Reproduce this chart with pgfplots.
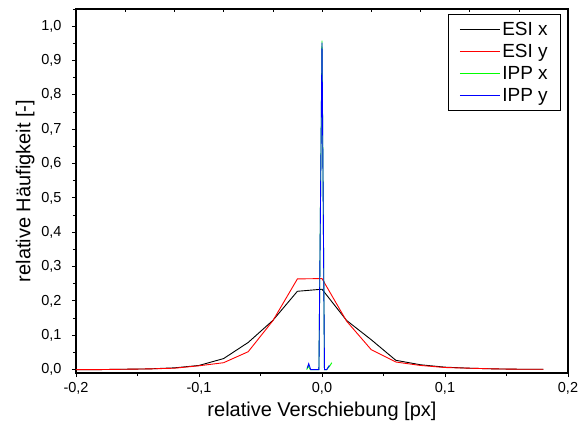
\documentclass[border=0pt]{standalone}
\usepackage{pgfplots}
\pgfplotsset{compat=1.18}
\usepackage{fontspec}
\setmainfont{Liberation Sans}

\definecolor{esiy}{RGB}{255,0,0}
\definecolor{ippx}{RGB}{0,255,0}
\definecolor{ippy}{RGB}{0,0,255}

\begin{document}
\begin{tikzpicture}
\begin{axis}[
	at={(0pt,0pt)}, anchor=south west,
	scale only axis,
	width=492pt, height=364pt,
	xmin=-0.2, xmax=0.2,
	ymin=-0.01, ymax=1.05,
	xtick={-0.2,-0.1,0,0.1,0.2},
	xticklabels={{-0,2},{-0,1},{0,0},{0,1},{0,2}},
	minor xtick={-0.15,-0.05,0.05,0.15},
	ytick={0,0.1,...,1.0},
	yticklabels={{0,0},{0,1},{0,2},{0,3},{0,4},{0,5},{0,6},{0,7},{0,8},{0,9},{1,0}},
	minor ytick={0.05,0.15,...,1.0},
	xtick pos=bottom, ytick pos=left,
	tick align=outside,
	major tick length=4pt, minor tick length=3pt,
	every tick/.style={black, line width=0.8pt},
	axis line style={line width=1.2pt},
	tick label style={font=\fontsize{14.5}{17}\selectfont},
	xticklabel style={yshift=-2pt},
	yticklabel style={xshift=-7pt},
	xlabel={relative Verschiebung [px]},
	ylabel={relative Häufigkeit [-]},
	label style={font=\fontsize{20}{24}\selectfont},
	xlabel style={at={(axis description cs:0.5,0)}, anchor=north, yshift=-25pt},
	ylabel style={at={(axis description cs:0,0.5)}, anchor=south, yshift=38pt},
	legend style={at={(0.986,0.986)}, anchor=north east, line width=0.8pt,
		font=\fontsize{19}{22}\selectfont, legend cell align=left,
		row sep=3.4pt, inner xsep=11pt, inner ysep=5.5pt},
	every axis plot/.append style={line width=0.9pt},
]
\addplot[black,
	legend image code/.code={\draw[black, line width=1pt] (0pt,0pt) -- (40pt,0pt);}] table {
-0.20 0.000
-0.18 0.000
-0.16 0.001
-0.14 0.002
-0.12 0.005
-0.10 0.012
-0.08 0.032
-0.06 0.079
-0.04 0.143
-0.02 0.228
0.00 0.234
0.02 0.143
0.04 0.087
0.06 0.027
0.08 0.014
0.10 0.007
0.12 0.004
0.14 0.002
0.16 0.001
0.18 0.001
};
\addlegendentry{ESI x}
\addplot[color=esiy,
	legend image code/.code={\draw[esiy, line width=1pt] (0pt,0pt) -- (40pt,0pt);}] table {
-0.20 0.000
-0.18 0.000
-0.16 0.001
-0.14 0.002
-0.12 0.004
-0.10 0.011
-0.08 0.020
-0.06 0.052
-0.04 0.142
-0.02 0.264
0.00 0.265
0.02 0.141
0.04 0.058
0.06 0.022
0.08 0.012
0.10 0.006
0.12 0.004
0.14 0.002
0.16 0.001
0.18 0.001
};
\addlegendentry{ESI y}
\addplot[color=ippx,
	legend image code/.code={\draw[ippx, line width=1pt] (0pt,0pt) -- (40pt,0pt);}] table {
-0.0125 0.000
-0.0112 0.010
-0.0095 0.000
-0.0025 0.000
0.0000 0.958
0.0020 0.000
0.0038 0.000
0.0062 0.010
0.0080 0.020
};
\addlegendentry{IPP x}
\addplot[color=ippy,
	legend image code/.code={\draw[ippy, line width=1pt] (0pt,0pt) -- (40pt,0pt);}] table {
-0.0120 0.004
-0.0108 0.017
-0.0092 0.000
-0.0025 0.000
0.0000 0.952
0.0020 0.000
0.0038 0.000
0.0060 0.012
};
\addlegendentry{IPP y}
\end{axis}
% small inward ticks on the top axis, as in the original
\begin{axis}[
	at={(0pt,0pt)}, anchor=south west,
	scale only axis,
	width=492pt, height=364pt,
	xmin=-0.2, xmax=0.2,
	ymin=-0.01, ymax=1.05,
	axis x line*=top, hide y axis,
	xtick={-0.16,-0.12,...,0.17},
	xticklabels={},
	tick align=inside,
	major tick length=3pt,
	every tick/.style={black, line width=0.6pt},
	axis line style={line width=1.2pt},
]
\end{axis}
\useasboundingbox (-76pt,-59pt) rectangle (512pt,373pt);
\end{tikzpicture}
\end{document}
